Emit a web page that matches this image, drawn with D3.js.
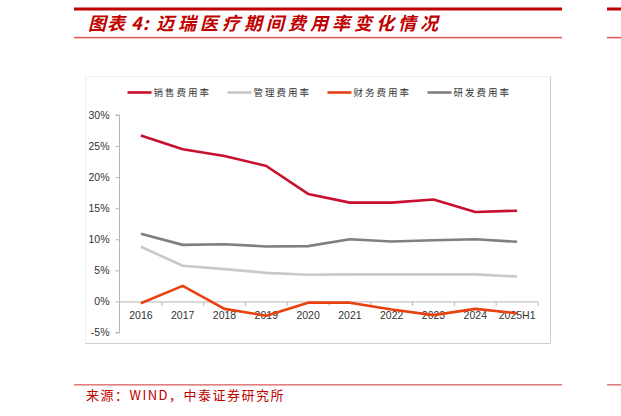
<!DOCTYPE html>
<html>
<head>
<meta charset="utf-8">
<script src="https://cdn.jsdelivr.net/npm/d3@7"></script>
<style>
  body { margin: 0; background: #fff; }
  svg { display: block; }
</style>
</head>
<body>
<div id="chart"></div>
<script>
(function() {
	var width = 621,
		height = 416;

	// data (percent)
	var years = ["2016", "2017", "2018", "2019", "2020", "2021", "2022", "2023", "2024", "2025H1"];
	var sales   = [26.7, 24.5, 23.4, 21.8, 17.3, 15.9, 15.9, 16.4, 14.4, 14.6];
	var admin   = [8.8, 5.75, 5.2, 4.6, 4.3, 4.35, 4.35, 4.35, 4.35, 4.0];
	var finance = [-0.3, 2.5, -1.2, -2.3, -0.2, -0.2, -1.3, -2.2, -1.2, -1.9];
	var rnd     = [10.9, 9.1, 9.2, 8.85, 8.9, 10.0, 9.65, 9.85, 10.0, 9.6];
	var yTicks  = [-5, 0, 5, 10, 15, 20, 25, 30];

	var series = [
		{ name: "销售费用率", values: sales, color: "#c8102e" },
		{ name: "管理费用率", values: admin, color: "#c9c9c9" },
		{ name: "财务费用率", values: finance, color: "#e8410f" },
		{ name: "研发费用率", values: rnd, color: "#7f7f7f" }
	];

	var svg = d3.select("#chart")
		.append("svg")
		.attr("width", width)
		.attr("height", height)

	var red = "#c00000";

	// header rules and title
	svg.append("rect").attr("x", 74).attr("y", 7.5).attr("width", 488).attr("height", 3).attr("fill", "#c00000")
	svg.append("rect").attr("x", 607).attr("y", 7.5).attr("width", 14).attr("height", 3).attr("fill", "#c00000")
	svg.append("rect").attr("x", 74).attr("y", 36.8).attr("width", 488).attr("height", 1.6).attr("fill", "#e06060")
	svg.append("rect").attr("x", 607).attr("y", 36.8).attr("width", 14).attr("height", 1.6).attr("fill", "#e06060")
	var title = svg.append("text")
		.attr("y", 30)
		.attr("fill", red)
		.style("font-family", "'Noto Sans CJK SC', sans-serif")
		.style("font-size", "18px")
		.style("font-weight", "bold")
		.style("font-style", "italic")
	title.append("tspan").attr("x", 88).style("letter-spacing", "1px").text("图表 4:")
	title.append("tspan").attr("x", 156).style("letter-spacing", "4px").text("迈瑞医疗期间费用率变化情况")

	// footer
	svg.append("rect").attr("x", 74).attr("y", 384).attr("width", 488).attr("height", 1.6).attr("fill", "#e08080")
	svg.append("rect").attr("x", 607).attr("y", 384).attr("width", 14).attr("height", 1.6).attr("fill", "#e08080")
	svg.append("text")
		.attr("x", 86)
		.attr("y", 400)
		.attr("fill", red)
		.style("font-family", "'Noto Sans CJK SC', sans-serif")
		.style("font-size", "13px")
		.style("letter-spacing", "1.5px")
		.text("来源：WIND，中泰证券研究所")

	// chart frame
	svg.append("rect")
		.attr("x", 85.5).attr("y", 76.5).attr("width", 465).attr("height", 267)
		.attr("fill", "none").attr("stroke", "#f0f0f0")
	svg.append("path")
		.attr("d", "M85.5,343.5H550.5V76.5")
		.attr("fill", "none").attr("stroke", "#cfcfcf")

	var x = d3.scaleBand().domain(years).range([120, 538]);
	var y = d3.scaleLinear().domain([-5, 30]).range([332.5, 115]);

	// y axis
	var yAxis = svg.append("g")
		.attr("transform", "translate(119.5,0)")
		.call(d3.axisLeft(y).tickValues(yTicks).tickSize(4).tickPadding(6).tickFormat(function(d) { return d + "%"; }))
	yAxis.select(".domain").attr("stroke", "#b5b5b5").attr("d", "M-4," + y(30) + "H0V" + y(-5) + "H-4")
	yAxis.selectAll(".tick line").attr("stroke", "#b5b5b5")
	yAxis.selectAll("text")
		.attr("fill", "#333")
		.style("font-family", "'Liberation Sans', Arial, sans-serif")
		.style("font-size", "10.5px")

	// x axis along zero, ticks between categories
	var xAxis = svg.append("g").attr("transform", "translate(0," + (y(0) + 0.5) + ")")
	xAxis.append("line")
		.attr("x1", 120).attr("x2", 538)
		.attr("stroke", "#b5b5b5")
	xAxis.selectAll(".xtick")
		.data(years.slice(1).concat(["end"]))
		.enter().append("line")
		.attr("class", "xtick")
		.attr("x1", function(d, i) { return x.range()[0] + x.step() * (i + 1); })
		.attr("x2", function(d, i) { return x.range()[0] + x.step() * (i + 1); })
		.attr("y1", 0).attr("y2", 4)
		.attr("stroke", "#b5b5b5")
	xAxis.selectAll(".xlabel")
		.data(years)
		.enter().append("text")
		.attr("class", "xlabel")
		.attr("x", function(d) { return x(d) + x.bandwidth() / 2; })
		.attr("y", 17)
		.attr("text-anchor", "middle")
		.attr("fill", "#333")
		.style("font-family", "'Liberation Sans', Arial, sans-serif")
		.style("font-size", "10.5px")
		.text(function(d) { return d; })

	// lines
	var line = d3.line()
		.x(function(d, i) { return x(years[i]) + x.bandwidth() / 2; })
		.y(function(d) { return y(d); })

	svg.selectAll(".series")
		.data(series)
		.enter().append("path")
		.attr("class", "series")
		.attr("d", function(d) { return line(d.values); })
		.attr("fill", "none")
		.attr("stroke", function(d) { return d.color; })
		.attr("stroke-width", 2.6)
		.attr("stroke-linejoin", "round")

	// legend
	var legend = svg.selectAll(".legend")
		.data(series)
		.enter().append("g")
		.attr("class", "legend")
		.attr("transform", function(d, i) { return "translate(" + (127.5 + i * 100) + ",92.5)"; })
	legend.append("line")
		.attr("x1", 0).attr("x2", 24)
		.attr("stroke", function(d) { return d.color; })
		.attr("stroke-width", 2.6)
	legend.append("text")
		.attr("x", 26)
		.attr("y", 3.5)
		.attr("fill", "#333")
		.style("font-family", "'Noto Sans CJK SC', sans-serif")
		.style("font-size", "9.5px")
		.style("letter-spacing", "2px")
		.text(function(d) { return d.name; })

}) ();
</script>
</body>
</html>
